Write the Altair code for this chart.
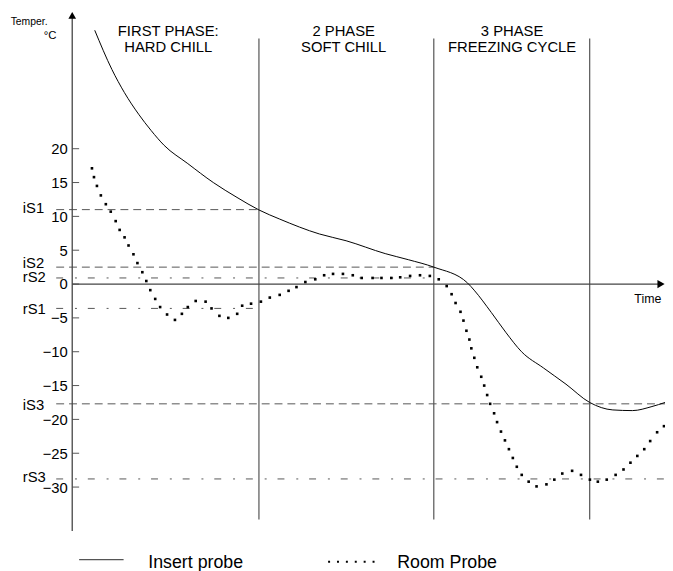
import altair as alt
import pandas as pd

FONT = "Liberation Sans"

# ---------------- data ----------------
# time axis in arbitrary units (0..100), temperature in degC
insert_t = [3.8, 6.7, 8.8, 11.2, 13.3, 15.5, 19.5, 23.8, 27.8, 31.5, 35.0, 41.7, 46.2,
            52.8, 56.7, 61.0, 66.7, 67.8, 70.7, 73.2, 75.8, 79.5, 83.3, 87.3, 91.2,
            94.5, 97.8, 100.0]
insert_v = [37.5, 31.7, 28.3, 25.1, 22.7, 20.5, 17.8, 15.0, 12.8, 10.95, 9.6, 7.4, 6.4,
            4.5, 3.6, 2.5, 0.15, -0.9, -4.2, -7.2, -10.0, -12.4, -14.8, -17.5, -18.6,
            -18.7, -18.1, -17.5]

room_t = [3.33, 3.67, 4.17, 4.83, 5.67, 6.5, 7.33, 8.0, 8.83, 9.5, 10.33, 11.0, 11.83,
          12.5, 13.17, 14.0, 14.83, 16.0, 17.33, 18.5, 19.5, 20.83, 22.5, 23.5, 24.83,
          26.33, 27.83, 28.67, 30.17, 31.83, 33.33, 35.0, 36.5, 37.83, 39.33, 41.0, 42.5,
          44.0, 45.67, 47.33, 48.83, 50.67, 52.17, 53.83, 55.33, 57.0, 58.67, 60.33,
          61.83, 63.17, 64.0, 64.67, 65.5, 66.0, 66.5, 67.0, 67.33, 67.83, 68.33, 69.0,
          69.5, 70.0, 70.5, 71.17, 71.67, 72.33, 73.0, 73.67, 74.33, 75.0, 75.83, 77.0,
          78.33, 80.0, 81.33, 82.67, 84.33, 85.83, 87.33, 88.67, 90.17, 91.67, 93.0,
          94.17, 95.33, 96.5, 97.5, 98.67, 99.83]
room_v = [17.1, 15.8, 14.5, 13.1, 11.8, 10.7, 9.3, 8.0, 6.9, 5.7, 4.4, 3.1, 1.75,
          0.45, -0.9, -2.2, -3.4, -4.5, -5.3, -4.4, -3.4, -2.5, -2.6, -3.6, -4.7,
          -5.0, -4.4, -3.2, -2.9, -2.6, -2.0, -1.6, -1.0, -0.45, 0.3, 0.7, 1.3,
          1.5, 1.5, 1.3, 0.9, 0.9, 0.9, 0.9, 1.0, 1.2, 1.3, 1.2,
          0.7, -0.3, -1.5, -2.8, -4.1, -5.4, -6.9, -8.2, -9.5, -10.9, -12.3, -13.7,
          -15.0, -16.4, -17.7, -19.1, -20.4, -21.8, -23.1, -24.4, -25.7, -27.0, -28.2, -29.2,
          -29.9, -29.6, -28.9, -28.0, -27.6, -28.2, -28.9, -29.2, -28.9, -28.2, -27.4,
          -26.4, -25.4, -24.4, -23.2, -21.9, -21.0]

thr_names = ["iS1", "iS2", "rS2", "rS1", "iS3", "rS3"]
thr_values = [11.0, 2.5, 0.9, -3.6, -17.7, -28.8]
thr_end = [31.5, 61.0, 61.0, 31.5, 100.0, 100.0]
thr_kind = ["dash", "dash", "dashdot", "dashdot", "dash", "dashdot"]
thr_start = -2.7

phase_t = [31.5, 61.0, 87.3]
phase_top, phase_bottom = 36.3, -34.8

phase_label_t = [16.2, 45.8, 74.2]
phase_line1 = ["FIRST PHASE:", "2 PHASE", "3 PHASE"]
phase_line2 = ["HARD CHILL", "SOFT CHILL", "FREEZING CYCLE"]

y_ticks = [20, 15, 10, 5, 0, -5, -10, -15, -20, -25, -30]

# ---------------- tables ----------------
ins = pd.DataFrame({"t": insert_t, "v": insert_v})
room = pd.DataFrame({"t": room_t, "v": room_v})
thr = pd.DataFrame({"name": thr_names, "v": thr_values, "t0": thr_start,
                    "t1": thr_end, "kind": thr_kind})
phases = pd.DataFrame({"t": phase_t, "y0": phase_top, "y1": phase_bottom})
plab = pd.DataFrame({"t": phase_label_t * 2,
                     "v": [37.4] * 3 + [35.0] * 3,
                     "text": phase_line1 + phase_line2})
ticks = pd.DataFrame({"v": y_ticks})
one = pd.DataFrame({"a": [0]})

W, H = 600, 524
xs = alt.Scale(domain=[0, 100], nice=False, zero=False)
ys = alt.Scale(domain=[-36.5, 40], nice=False, zero=False)

X = lambda f: alt.X(f, type="quantitative", scale=xs, axis=None)
Y = lambda f: alt.Y(f, type="quantitative", scale=ys)

# y axis labels
ylabels = alt.Chart(ticks).mark_tick(opacity=0).encode(
    y=alt.Y("v:Q", scale=ys, axis=alt.Axis(values=y_ticks, domain=False, ticks=False,
                                           tickSize=0, labelPadding=5, labelFontSize=15,
                                           labelFont=FONT, labelColor="black", title=None,
                                           grid=False)),
    x=alt.value(0))

ytickmarks = alt.Chart(ticks).mark_rule(color="#555", strokeWidth=1).encode(
    y=Y("v"), x=alt.value(0), x2=alt.value(7))

yaxis = alt.Chart(one).mark_rule(color="#444", strokeWidth=1.3).encode(
    x=alt.value(0), y=alt.value(4), y2=alt.value(H))
yarrow = alt.Chart(one).mark_point(shape="triangle-up", filled=True, size=60,
                                   color="black", opacity=1).encode(
    x=alt.value(0), y=alt.value(2))

xaxis = alt.Chart(one).mark_rule(color="#444", strokeWidth=1.3).encode(
    y=alt.Y(datum=0, scale=ys), x=alt.value(0), x2=alt.value(594))
xarrow = alt.Chart(one).mark_point(shape="triangle-right", filled=True, size=70,
                                   color="black", opacity=1).encode(
    y=alt.Y(datum=0, scale=ys), x=alt.value(596))

phase_rules = alt.Chart(phases).mark_rule(color="#444", strokeWidth=1.1).encode(
    x=X("t"), y=Y("y0"), y2="y1")

thr_dash = alt.Chart(thr).transform_filter(alt.datum.kind == "dash").mark_rule(
    color="#555", strokeWidth=1, strokeDash=[8, 5]).encode(x=X("t0"), x2="t1", y=Y("v"))
thr_dd = alt.Chart(thr).transform_filter(alt.datum.kind == "dashdot").mark_rule(
    color="#555", strokeWidth=1, strokeDash=[7, 12, 2, 11]).encode(x=X("t0"), x2="t1", y=Y("v"))

# small vertical nudges so the stacked labels read like the original
label_dy = {"iS1": -2, "iS2": -4, "rS2": -1, "rS1": 1, "iS3": 1, "rS3": -2}
thr_texts = [
    alt.Chart(thr).transform_filter(alt.datum.name == n).mark_text(
        align="left", baseline="middle", fontSize=15, font=FONT, color="black",
        dy=d).encode(x=alt.value(-50), y=Y("v"), text="name:N")
    for n, d in label_dy.items()
]

ins_line = alt.Chart(ins).mark_line(color="black", strokeWidth=1,
                                    interpolate="monotone").encode(x=X("t"), y=Y("v"))
room_pts = alt.Chart(room).mark_square(color="black", size=7, opacity=1).encode(
    x=X("t"), y=Y("v"))

phase_text = alt.Chart(plab).mark_text(align="center", baseline="middle", fontSize=15,
                                       font=FONT, color="black").encode(
    x=X("t"), y=Y("v"), text="text:N")

temper = alt.Chart(one).mark_text(text="Temper.", align="right", baseline="middle",
                                  fontSize=10.5, font=FONT, color="black").encode(
    x=alt.value(-25), y=alt.value(9))
degc = alt.Chart(one).mark_text(text="°C", align="right", baseline="middle",
                                fontSize=11.5, font=FONT, color="black").encode(
    x=alt.value(-16), y=alt.value(23))
timelab = alt.Chart(one).mark_text(text="Time", align="left", baseline="middle",
                                   fontSize=12.5, font=FONT, color="black").encode(
    x=alt.value(569), y=alt.value(289))

leg_line = alt.Chart(one).mark_rule(color="#555", strokeWidth=1.3).encode(
    x=alt.value(7), x2=alt.value(52), y=alt.value(553))
leg_dots = alt.Chart(one).mark_rule(color="black", strokeWidth=2,
                                    strokeDash=[2, 7]).encode(
    x=alt.value(259), x2=alt.value(306), y=alt.value(555))
leg_t1 = alt.Chart(one).mark_text(text="Insert probe", align="left", baseline="alphabetic",
                                  fontSize=18, font=FONT, color="black").encode(
    x=alt.value(77), y=alt.value(561))
leg_t2 = alt.Chart(one).mark_text(text="Room Probe", align="left", baseline="alphabetic",
                                  fontSize=18, font=FONT, color="black").encode(
    x=alt.value(329), y=alt.value(561))

chart = alt.layer(
    ylabels, ytickmarks, phase_rules, thr_dash, thr_dd, yaxis, xaxis, yarrow, xarrow,
    *thr_texts, ins_line, room_pts, phase_text, temper, degc, timelab,
    leg_line, leg_dots, leg_t1, leg_t2
).properties(
    width=W, height=H,
    autosize=alt.AutoSizeParams(type="none"),
    padding={"left": 65, "top": 2, "right": 0, "bottom": 37},
    background="white"
).configure_view(stroke=None)

chart.save("out.html", embed_options={"renderer": "svg", "actions": False})
